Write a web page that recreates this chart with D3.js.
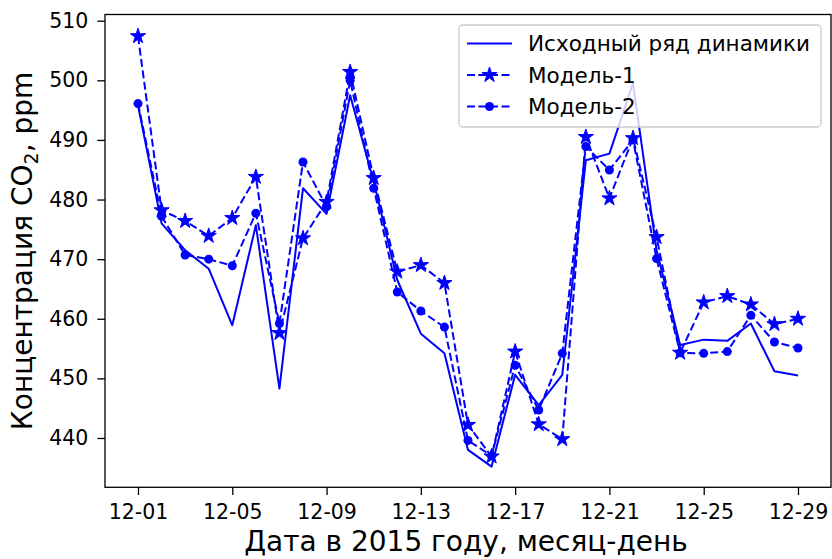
<!DOCTYPE html>
<html><head><meta charset="utf-8">
<script src="https://cdn.jsdelivr.net/npm/d3@7"></script>
<style>body{margin:0;background:#fff;} svg{display:block;font-family:"DejaVu Sans",sans-serif;}</style>
</head><body>
<svg id="chart" width="832" height="559"></svg>
<script>
const days = d3.range(1, 30);
const tickDays = [1, 5, 9, 13, 17, 21, 25, 29];
const tickLabels = ["12-01","12-05","12-09","12-13","12-17","12-21","12-25","12-29"];
const yTicks = [440, 450, 460, 470, 480, 490, 500, 510];
const original = [495.8, 476.0, 471.5, 468.4, 458.9, 475.7, 448.3, 481.9, 477.6, 497.5, 483.0, 466.5, 457.5, 454.2, 438.0, 435.2, 450.6, 445.5, 450.6, 486.6, 487.7, 499.5, 471.5, 455.6, 456.5, 456.3, 459.2, 451.2, 450.5];
const model1 = [507.4, 478.2, 476.4, 473.9, 476.9, 483.8, 457.6, 473.5, 479.6, 501.4, 483.6, 467.9, 469.0, 466.0, 442.2, 436.9, 454.5, 442.3, 439.8, 490.5, 480.2, 490.3, 473.7, 454.3, 462.75, 463.8, 462.4, 459.1, 460.0];
const model2 = [496.1, 477.2, 470.7, 470.0, 468.9, 477.7, 459.2, 486.3, 478.8, 500.0, 481.9, 464.5, 461.3, 458.6, 439.6, 437.0, 452.2, 444.7, 454.2, 488.9, 484.95, 490.0, 470.1, 454.3, 454.2, 454.5, 460.6, 456.1, 455.1];
const legendLabels = ["Исходный ряд динамики", "Модель-1", "Модель-2"];

const color = "#0000ff";
const L = 105, R = 831, T = 14.5, B = 487.3;
const svg = d3.select("#chart");
const x = d3.scaleLinear().domain([1 - 1.4, 29 + 1.4]).range([L, R]);
const y = d3.scaleLinear().domain([440, 510]).range([438, 20.7]);

function starPath(r) {
  const ri = r * 0.381966;
  const pts = [];
  for (let i = 0; i < 10; i++) {
    const a = -Math.PI / 2 + i * Math.PI / 5;
    const rr = i % 2 === 0 ? r : ri;
    pts.push([rr * Math.cos(a), rr * Math.sin(a)]);
  }
  return "M" + pts.map(p => p[0].toFixed(2) + "," + p[1].toFixed(2)).join("L") + "Z";
}

const line = d3.line().x((d, i) => x(days[i])).y(d => y(d));
const plot = svg.append("g");

plot.append("path").datum(original).attr("d", line)
  .attr("fill", "none").attr("stroke", color).attr("stroke-width", 2).attr("stroke-linejoin", "round");
plot.append("path").datum(model1).attr("d", line)
  .attr("fill", "none").attr("stroke", color).attr("stroke-width", 2).attr("stroke-dasharray", "8,3.5");
plot.append("path").datum(model2).attr("d", line)
  .attr("fill", "none").attr("stroke", color).attr("stroke-width", 2).attr("stroke-dasharray", "8,3.5");

plot.selectAll(".star").data(model1).enter().append("path")
  .attr("transform", (d, i) => `translate(${x(days[i])},${y(d)})`)
  .attr("d", starPath(8)).attr("fill", color).attr("stroke", color).attr("stroke-width", 1);
plot.selectAll(".dot").data(model2).enter().append("circle")
  .attr("cx", (d, i) => x(days[i])).attr("cy", d => y(d)).attr("r", 4.5).attr("fill", color);

// axes
const xAxis = d3.axisBottom(x).tickValues(tickDays).tickFormat((d, i) => tickLabels[i]).tickSizeOuter(0).tickSize(7.7).tickPadding(9);
const gx = svg.append("g").attr("transform", `translate(0,${B})`).call(xAxis);
gx.select(".domain").remove();
gx.selectAll("text").attr("font-size", 20.5).attr("font-family", "DejaVu Sans").attr("fill", "#000");
gx.selectAll("line").attr("stroke", "#000").attr("stroke-width", 1.3);

const yAxis = d3.axisLeft(y).tickValues(yTicks).tickSizeOuter(0).tickSize(7.7).tickPadding(9);
const gy = svg.append("g").attr("transform", `translate(${L},0)`).call(yAxis);
gy.select(".domain").remove();
gy.selectAll("text").attr("font-size", 20.5).attr("font-family", "DejaVu Sans").attr("fill", "#000");
gy.selectAll("line").attr("stroke", "#000").attr("stroke-width", 1.3);

svg.append("rect").attr("x", L).attr("y", T).attr("width", R - L).attr("height", B - T)
  .attr("fill", "none").attr("stroke", "#000").attr("stroke-width", 1.3);

// axis titles
svg.append("text").attr("x", (L + R) / 2 - 2).attr("y", 551).attr("text-anchor", "middle")
  .attr("font-size", 28).attr("fill", "#000").text("Дата в 2015 году, месяц-день");
const yt = svg.append("text").attr("transform", `translate(32,${(T + B) / 2}) rotate(-90)`)
  .attr("text-anchor", "middle").attr("font-size", 28).attr("fill", "#000");
yt.append("tspan").text("Концентрация CO");
yt.append("tspan").attr("font-size", 19).attr("dy", 6).text("2");
yt.append("tspan").attr("dy", -6).text(", ppm");

// legend
const lg = svg.append("g");
lg.append("rect").attr("x", 459).attr("y", 25).attr("width", 362).attr("height", 102)
  .attr("rx", 4).attr("fill", "#fff").attr("fill-opacity", 0.8).attr("stroke", "#cccccc").attr("stroke-width", 1.3);
const rows = [43.5, 75, 106.5];
const lx1 = 467, lx2 = 512;
lg.append("line").attr("x1", lx1).attr("x2", lx2).attr("y1", rows[0]).attr("y2", rows[0]).attr("stroke", color).attr("stroke-width", 2);
[1, 2].forEach(k => {
  lg.append("line").attr("x1", lx1).attr("x2", lx2).attr("y1", rows[k]).attr("y2", rows[k])
    .attr("stroke", color).attr("stroke-width", 2).attr("stroke-dasharray", "8,3.5");
});
lg.append("path").attr("transform", `translate(${(lx1 + lx2) / 2},${rows[1]})`).attr("d", starPath(8)).attr("fill", color).attr("stroke", color);
lg.append("circle").attr("cx", (lx1 + lx2) / 2).attr("cy", rows[2]).attr("r", 4.5).attr("fill", color);
legendLabels.forEach((t, i) => {
  lg.append("text").attr("x", 528).attr("y", rows[i]).attr("dy", "0.35em").attr("font-size", 21.5).attr("fill", "#000").text(t);
});
</script>
</body></html>
